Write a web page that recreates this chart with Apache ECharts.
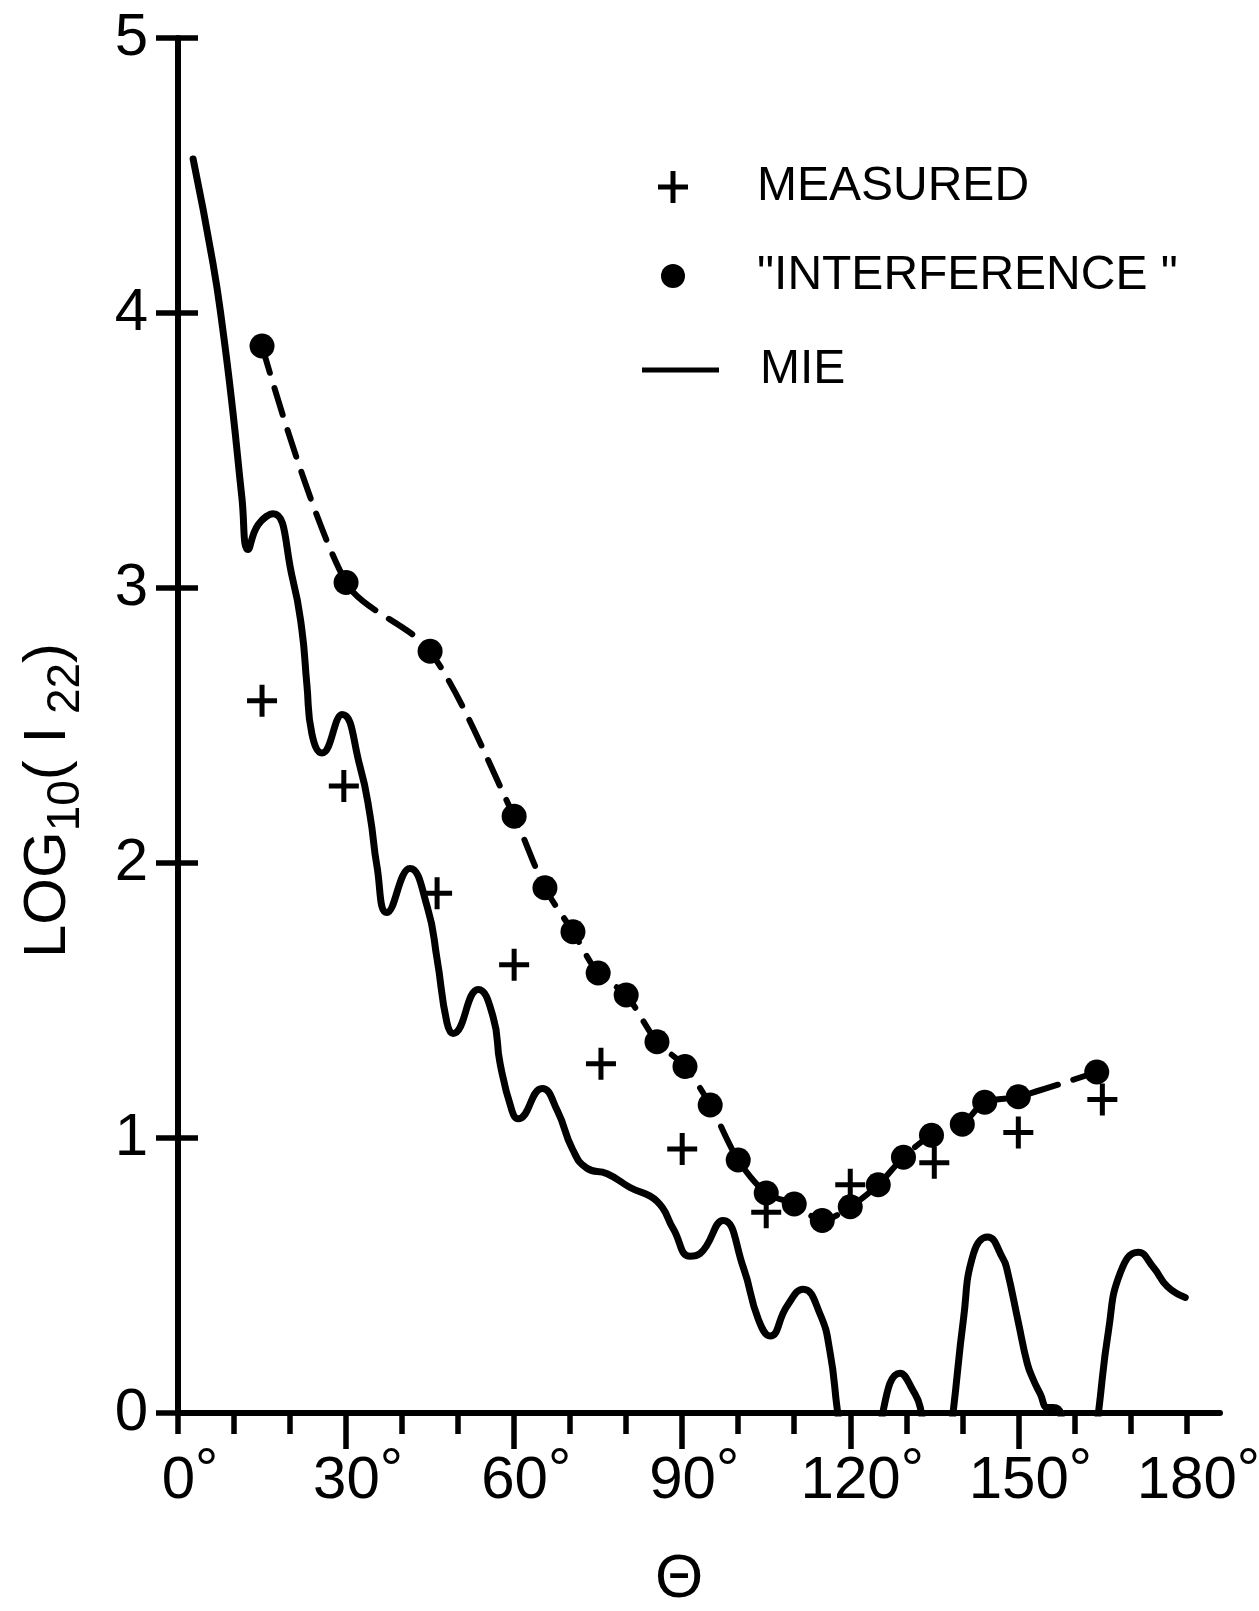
<!DOCTYPE html>
<html>
<head>
<meta charset="utf-8">
<title>LOG10(I22) vs Θ</title>
<script src="https://cdn.jsdelivr.net/npm/echarts@6/dist/echarts.min.js"></script>
<style>
  html, body { margin: 0; padding: 0; background: #fff; }
  #chart { width: 1259px; height: 1611px; }
</style>
</head>
<body>
<div id="chart"></div>
<script>
// Mie curve (solid), angle in degrees / log10(I22)
const mieAngle = [2.7, 6.25, 8.0, 9.8, 11.4, 12.5, 14.3, 17.0, 20.5, 22.1, 23.0, 23.9, 25.7, 29.3, 32.5, 34.3, 35.5, 37.3,
  41.4, 44.5, 46.25, 48.0, 49.1, 53.6, 56.25, 57.5, 59.6, 60.7, 65.0, 67.7, 70.4, 73.0, 76.6, 80.7, 85.5, 88.4,
  91.4, 93.2, 97.3, 100.9, 103.6, 105.7, 108.75, 111.6, 114.6, 116.4, 117.7, 120.5, 123.5, 125.9, 128.9, 131.25,
  132.5, 134.8, 136.8, 138.4, 140.2, 142.0, 144.5, 147.3, 148.0, 150.0, 151.6, 152.7, 153.9, 155.2, 156.25, 157.5,
  160, 162.5, 164.3, 166.1, 168.2, 171.4, 174.1, 176.6, 179.8]
const mieLog = [4.56, 4.18, 3.94, 3.64, 3.33, 3.14, 3.23, 3.27, 3.03, 2.85, 2.65, 2.47, 2.40, 2.54, 2.35, 2.17, 1.99, 1.82,
  1.98, 1.84, 1.65, 1.42, 1.38, 1.54, 1.44, 1.27, 1.10, 1.07, 1.18, 1.10, 0.96, 0.89, 0.87, 0.82, 0.77, 0.67,
  0.57, 0.58, 0.70, 0.53, 0.34, 0.28, 0.39, 0.45, 0.36, 0.22, 0.01, -0.4, -0.4, 0.01, 0.145, 0.08,
  0.02, -0.25, -0.25, 0.01, 0.34, 0.58, 0.64, 0.56, 0.52, 0.33, 0.18, 0.12, 0.07, 0.02, 0.02, 0.0,
  -0.3, -0.3, 0.0, 0.30, 0.51, 0.585, 0.53, 0.46, 0.42]

// "interference" dots (dashed curve)
const intAngle = [15, 30, 45, 60, 65.5, 70.5, 75, 80, 85.5, 90.5, 95, 100, 105, 110, 115, 120, 125, 129.5, 134.5, 140, 144, 150, 164]
const intLog = [3.88, 3.02, 2.77, 2.17, 1.91, 1.75, 1.60, 1.52, 1.35, 1.26, 1.12, 0.92, 0.80, 0.76, 0.70, 0.75, 0.83, 0.93, 1.01, 1.05, 1.13, 1.15, 1.24]

// measured crosses
const measAngle = [15, 29.6, 46.25, 60, 75.5, 90, 105, 120, 135, 150, 165]
const measLog = [2.59, 2.28, 1.89, 1.63, 1.27, 0.96, 0.73, 0.83, 0.91, 1.02, 1.14]

const majorTicks = [30, 60, 90, 120, 150]
const minorTicks = [0, 10, 20, 40, 50, 70, 80, 100, 110, 130, 140, 160, 170, 180]
const xLabels = [0, 30, 60, 90, 120, 150, 180]

const FONT = '"Liberation Sans", Arial, sans-serif'
const INK = '#000'
const plusPath = 'path://M12.5,0H17.5V13.5H30V18.5H17.5V32H12.5V18.5H0V13.5H12.5Z'

const zip = (a, b) => a.map((v, i) => [v, b[i]])

let myChart = echarts.init(document.getElementById('chart'))
let option = {
  backgroundColor: '#fff',
  animation: false,
  grid: {
    left: 178,
    right: 39,
    top: 38,
    bottom: 198,
    containLabel: false,
    outerBoundsMode: 'none'
  },
  legend: [
    {
      data: [{ name: 'MEASURED', icon: plusPath, itemStyle: { color: INK, opacity: 1 } }],
      left: 658, top: 162, padding: 0,
      itemWidth: 30, itemHeight: 32,
      selectedMode: false,
      textStyle: { fontFamily: FONT, fontSize: 48, color: INK, lineHeight: 50, padding: [0, 0, 0, 64] }
    },
    {
      data: [{ name: '"INTERFERENCE "', icon: 'circle' }],
      left: 661, top: 251, padding: 0,
      itemWidth: 24, itemHeight: 24,
      selectedMode: false,
      itemStyle: { borderWidth: 0 },
      textStyle: { fontFamily: FONT, fontSize: 48, color: INK, lineHeight: 50, padding: [0, 0, 0, 67] }
    },
    {
      data: [{ name: 'MIE', icon: 'rect' }],
      left: 642, top: 345, padding: 0,
      itemWidth: 77, itemHeight: 5,
      selectedMode: false,
      textStyle: { fontFamily: FONT, fontSize: 48, color: INK, lineHeight: 50, padding: [0, 0, 0, 36] }
    }
  ],
  xAxis: [
    {
      type: 'value',
      min: 0,
      max: 186,
      interval: 10,
      position: 'bottom',
      name: 'Θ',
      nameLocation: 'middle',
      nameGap: 136,
      nameTextStyle: { fontFamily: FONT, fontSize: 62, color: INK, padding: [0, 40, 0, 0] },
      axisLine: { show: true, lineStyle: { color: INK, width: 6 } },
      axisTick: { show: true, customValues: majorTicks, length: 36, lineStyle: { color: INK, width: 5.5 } },
      axisLabel: {
        customValues: xLabels,
        margin: 29,
        padding: [0, 0, 0, 24],
        formatter: v => '{n|' + v + '}{d|°}',
        rich: {
          n: { fontFamily: FONT, fontSize: 60, color: INK, lineHeight: 60, padding: [19, 0, 0, 0] },
          d: { fontFamily: FONT, fontSize: 58, color: INK, lineHeight: 40 }
        }
      },
      splitLine: { show: false }
    },
    {
      type: 'value',
      min: 0,
      max: 186,
      interval: 10,
      position: 'bottom',
      axisLine: { show: false },
      axisTick: { show: true, customValues: minorTicks, length: 21, lineStyle: { color: INK, width: 5.5 } },
      axisLabel: { show: false },
      splitLine: { show: false }
    }
  ],
  yAxis: [
    {
      type: 'value',
      min: 0,
      max: 5,
      interval: 1,
      position: 'left',
      name: '{a|LOG}{s|10}{a|( I}{s| 22}{a|)}',
      nameLocation: 'middle',
      nameGap: 98,
      nameTextStyle: {
        fontFamily: FONT, color: INK, fontSize: 60,
        padding: [0, 150, 0, 0],
        rich: {
          a: { fontFamily: FONT, fontSize: 60, color: INK, lineHeight: 64 },
          s: { fontFamily: FONT, fontSize: 46, color: INK, lineHeight: 46, padding: [36, 0, 0, 0] }
        }
      },
      axisLine: { show: true, lineStyle: { color: INK, width: 6 } },
      axisTick: { show: true, length: 22, lineStyle: { color: INK, width: 5.5 } },
      axisLabel: { fontFamily: FONT, fontSize: 60, color: INK, margin: 30 },
      splitLine: { show: false }
    },
    {
      type: 'value',
      min: 0,
      max: 5,
      interval: 1,
      position: 'left',
      axisLine: { show: false },
      axisTick: { show: true, inside: true, length: 20, lineStyle: { color: INK, width: 5.5 } },
      axisLabel: { show: false },
      splitLine: { show: false }
    }
  ],
  series: [
    {
      name: 'MIE',
      type: 'line',
      data: zip(mieAngle, mieLog),
      showSymbol: false,
      symbol: 'none',
      smooth: 0.5,
      clip: true,
      itemStyle: { color: INK },
      lineStyle: { color: INK, width: 7, cap: 'round', join: 'round' },
      z: 2
    },
    {
      name: '"INTERFERENCE "',
      type: 'line',
      data: zip(intAngle, intLog),
      symbol: 'circle',
      symbolSize: 25,
      smooth: 0.3,
      itemStyle: { color: INK },
      lineStyle: { color: INK, width: 6, type: [28, 16], cap: 'round' },
      z: 3
    },
    {
      name: 'MEASURED',
      type: 'scatter',
      data: zip(measAngle, measLog),
      symbol: plusPath,
      symbolSize: [30, 32],
      itemStyle: { color: INK, opacity: 1 },
      z: 4
    }
  ]
}
myChart.setOption(option)
window.addEventListener('resize', function () {
  myChart.resize()
})
</script>
</body>
</html>
